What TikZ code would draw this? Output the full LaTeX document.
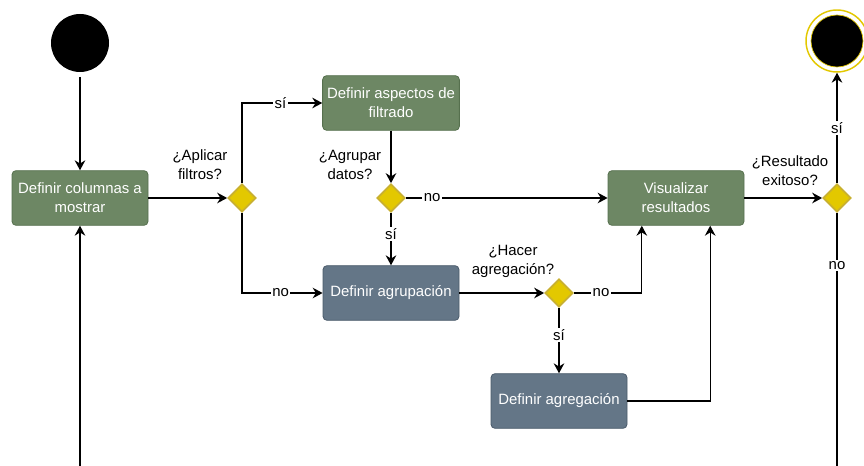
\documentclass[tikz,border=0pt]{standalone}
\usepackage{fontspec}
\setmainfont{Liberation Sans}
\usetikzlibrary{arrows.meta,shapes.geometric,calc}
\definecolor{sage}{HTML}{6D8764}
\definecolor{sagedark}{HTML}{56704E}
\definecolor{slate}{HTML}{647687}
\definecolor{slatedark}{HTML}{4A5A6A}
\definecolor{mustard}{HTML}{E3C800}
\definecolor{mustarddark}{HTML}{C8B030}

\begin{document}
\begin{tikzpicture}[
  x=.75pt,
  y=-.75pt,
  font=\fontsize{11.2}{14.2}\selectfont,
  act/.style={
    draw=sagedark,
    fill=sage,
    text=white,
    rounded corners=3pt,
    line width=.6pt,
    minimum width=102pt,
    minimum height=41pt,
    align=center
  },
  grp/.style={
    act,
    draw=slatedark,
    fill=slate
  },
  dec/.style={
    diamond,
    draw=mustarddark,
    fill=mustard,
    line width=1.3pt,
    inner sep=0pt,
    minimum width=21pt,
    minimum height=21pt
  },
  note/.style={
    align=center
  },
  guard/.style={
    fill=white,
    inner sep=1pt
  },
  flow/.style={
    -{Stealth[length=7.5pt,width=8pt,inset=2.5pt]},
    line width=.9pt
  },
  startdot/.style={
    circle,
    fill=black,
    inner sep=0pt,
    minimum size=43.5pt
  },
  enddot/.style={
    circle,
    draw=mustard,
    fill=white,
    line width=1.1pt,
    inner sep=0pt,
    minimum size=46.5pt,
    path picture={\filldraw[fill=black,draw=mustard,line width=.5pt]
      (path picture bounding box.center) circle (19.5pt);}
  }
]

\useasboundingbox (0,0) rectangle (864,466);
\clip (0,0) rectangle (864,466);

% start and end
\node[startdot] (init) at (80,43) {};
\node[enddot] (fin) at (837,41) {};

% actions
\node[act] (cols) at (80,198) {Definir columnas a\\mostrar};
\node[act] (filt) at (391,103) {Definir aspectos de\\filtrado};
\node[grp] (agrup) at (391,293) {Definir agrupación};
\node[grp] (agreg) at (559,401) {Definir agregación};
\node[act] (vis) at (676,198) {Visualizar\\resultados};

% decisions
\node[dec] (d1) at (242,198) {};
\node[dec] (d2) at (391,198) {};
\node[dec] (d3) at (559,293) {};
\node[dec] (d4) at (837,198) {};

\node[note] at (200,165) {¿Aplicar\\filtros?};
\node[note] at (350,165) {¿Agrupar\\datos?};
\node[note] at (513,261) {¿Hacer\\agregación?};
\node[note] at (790,171) {¿Resultado\\exitoso?};

\coordinate (loop) at (0,490);

% main flow
\draw[flow,shorten <=3.5pt] (init) -- (cols);
\draw[flow] (cols.east) -- (d1.west);

\draw[flow] (d1.north) |- node[guard,pos=.74]{sí} (filt.west);
\draw[flow] (d1.south) |- node[guard,pos=.74]{no} (agrup.west);

\draw[flow] (filt.south) -- (d2.north);
\draw[flow] (d2.east) -- node[guard,pos=.13]{no} (vis.west);
\draw[flow] (d2.south) -- node[guard,pos=.4]{sí} (agrup.north);

\draw[flow] (agrup.east) -- (d3.west);
\draw[flow] (d3.east) -| node[guard,pos=.2]{no} ($(vis.south)!.5!(vis.south west)$);
\draw[flow] (d3.south) -- node[guard,pos=.42]{sí} (agreg.north);
\draw[flow] (agreg.east) -| ($(vis.south)!.5!(vis.south east)$);

\draw[flow] (vis.east) -- (d4.west);
\draw[flow] (d4.north) -- node[guard]{sí} (fin.south);

% retry loop back to the start
\draw[flow] (d4.south) -- node[guard,pos=.19]{no} (d4.south |- loop) -| (cols.south);

\end{tikzpicture}
\end{document}
